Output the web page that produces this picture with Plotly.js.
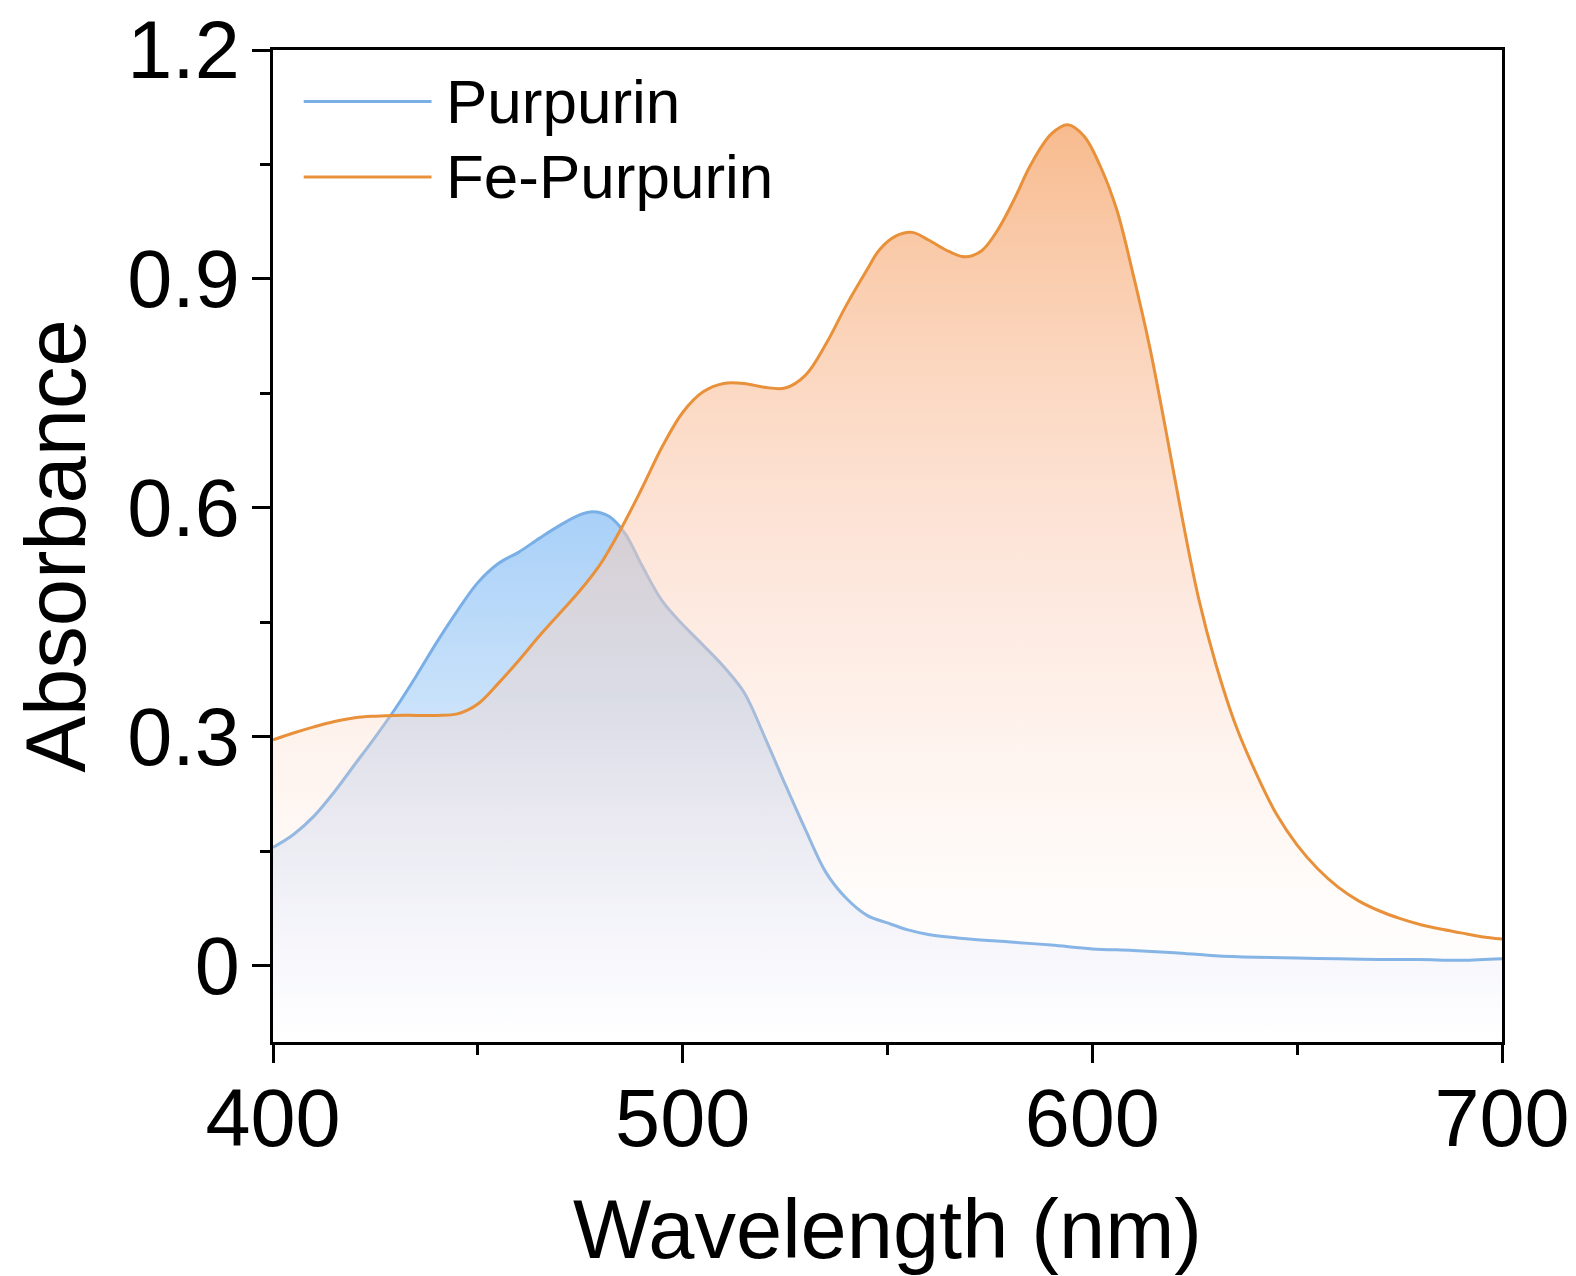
<!DOCTYPE html>
<html>
<head>
<meta charset="utf-8">
<script src="https://cdn.plot.ly/plotly-3.0.1.min.js"></script>
<style>
  html, body { margin: 0; padding: 0; background: #fff; }
  #chart { width: 1576px; height: 1276px; }
</style>
</head>
<body>
<div id="chart"></div>
<script>
// ---- Data ----
const seriesNames = ["Purpurin", "Fe-Purpurin"];

const purpurinWavelength = [400,405,410,415,420,425,430,435,440,445,450,455,460,465,470,475,478,482,486,490,495,500,505,510,515,520,525,530,535,540,545,550,555,560,570,580,590,600,610,620,630,640,650,660,670,680,690,700];
const purpurinAbs = [0.155,0.172,0.196,0.228,0.264,0.300,0.338,0.380,0.424,0.465,0.502,0.527,0.542,0.560,0.577,0.591,0.595,0.589,0.566,0.525,0.478,0.447,0.420,0.392,0.358,0.300,0.238,0.178,0.122,0.088,0.066,0.056,0.047,0.041,0.035,0.031,0.027,0.022,0.020,0.017,0.013,0.011,0.010,0.009,0.008,0.008,0.007,0.009];

const fePurpurinWavelength = [400,405,410,415,420,425,430,435,440,445,450,455,460,465,470,475,480,485,490,495,500,505,510,515,520,525,530,535,540,545,548,552,556,560,565,569,573,577,581,585,590,594,598,602,606,610,614,618,622,626,630,635,640,645,650,655,660,665,670,675,680,685,690,695,700];
const fePurpurinAbs = [0.296,0.305,0.313,0.320,0.325,0.327,0.328,0.328,0.328,0.330,0.343,0.370,0.400,0.432,0.462,0.492,0.527,0.573,0.625,0.680,0.725,0.752,0.763,0.763,0.758,0.757,0.774,0.815,0.866,0.912,0.938,0.956,0.961,0.951,0.936,0.929,0.937,0.965,1.005,1.050,1.090,1.102,1.087,1.047,0.990,0.905,0.811,0.700,0.585,0.480,0.398,0.315,0.252,0.198,0.158,0.127,0.103,0.085,0.072,0.062,0.054,0.048,0.043,0.038,0.035];

const xRange = [400, 700];
const yRange = [-0.1, 1.2];
const xTickVals = [400, 500, 600, 700];
const xTickText = ["400", "500", "600", "700"];
const yTickVals = [0, 0.3, 0.6, 0.9, 1.2];
const yTickText = ["0", "0.3", "0.6", "0.9", "1.2"];
const xTitle = "Wavelength (nm)";
const yTitle = "Absorbance";

// ---- Styles ----
const FONT = "Liberation Sans, Arial, Helvetica, sans-serif";
const blueLine = "rgb(122,175,230)";
const orangeLine = "rgb(232,145,58)";

// baseline traces at the bottom of the y-range (fills run down to the axis)
const baseX = xRange.slice();
const baseY = [yRange[0], yRange[0]];

const traces = [
  { x: baseX, y: baseY, mode: "lines", line: { width: 0 }, showlegend: false, hoverinfo: "skip" },
  {
    name: seriesNames[0], x: purpurinWavelength, y: purpurinAbs,
    mode: "lines", line: { color: blueLine, width: 3, shape: "spline", smoothing: 1 },
    fill: "tonexty",
    fillgradient: {
      type: "vertical", start: yRange[0], stop: 0.6,
      colorscale: [[0, "rgb(255,255,255)"], [0.143, "rgb(248,249,254)"], [0.43, "rgb(228,236,251)"], [0.643, "rgb(200,225,250)"], [1, "rgb(168,208,248)"]]
    },
    showlegend: false
  },
  { x: baseX, y: baseY, mode: "lines", line: { width: 0 }, showlegend: false, hoverinfo: "skip" },
  {
    name: seriesNames[1], x: fePurpurinWavelength, y: fePurpurinAbs,
    mode: "lines", line: { color: orangeLine, width: 3, shape: "spline", smoothing: 1 },
    fill: "tonexty",
    fillgradient: {
      type: "vertical", start: yRange[0], stop: 1.1,
      colorscale: [[0, "rgba(255,250,246,0)"], [0.25, "rgba(253,218,200,0.22)"], [0.5, "rgba(251,208,188,0.5)"], [0.75, "rgba(249,192,155,0.66)"], [1, "rgba(246,172,118,0.82)"]]
    },
    showlegend: false
  }
];

const axisCommon = {
  showgrid: false, zeroline: false,
  showline: true, linecolor: "#000", linewidth: 3, mirror: true,
  ticks: "outside", ticklen: 18, tickwidth: 3, tickcolor: "#000",
  tickfont: { family: FONT, size: 81, color: "#000" }
};

// manual legend (long line samples like the reference)
const legendY = [0.948, 0.872];
const legendColors = [blueLine, orangeLine];
const shapes = legendY.map((yy, i) => ({
  type: "line", xref: "paper", yref: "paper",
  x0: 0.025, x1: 0.129, y0: yy, y1: yy,
  line: { color: legendColors[i], width: 3 }
}));
const annotations = legendY.map((yy, i) => ({
  xref: "paper", yref: "paper", x: 0.139, y: yy,
  xanchor: "left", yanchor: "middle", showarrow: false,
  text: seriesNames[i], font: { family: FONT, size: 62, color: "#000" }
}));

const layout = {
  width: 1576, height: 1276,
  margin: { l: 273, r: 74, t: 50, b: 234 },
  paper_bgcolor: "#fff", plot_bgcolor: "#fff",
  showlegend: false,
  xaxis: Object.assign({}, axisCommon, {
    range: xRange, tickvals: xTickVals, ticktext: xTickText,
    ticklabelstandoff: -14,
    minor: { dtick: 50, tick0: 400, ticks: "outside", ticklen: 10, tickwidth: 3, tickcolor: "#000" },
    title: { text: xTitle, font: { family: FONT, size: 83, color: "#000" }, standoff: 38 }
  }),
  yaxis: Object.assign({}, axisCommon, {
    range: yRange, tickvals: yTickVals, ticktext: yTickText,
    ticklabelstandoff: -4,
    minor: { dtick: 0.15, tick0: 0, ticks: "outside", ticklen: 10, tickwidth: 3, tickcolor: "#000" },
    title: { text: yTitle, font: { family: FONT, size: 85, color: "#000" }, standoff: 14 }
  }),
  shapes: shapes,
  annotations: annotations
};

Plotly.newPlot("chart", traces, layout, { displayModeBar: false, staticPlot: true });
</script>
</body>
</html>
